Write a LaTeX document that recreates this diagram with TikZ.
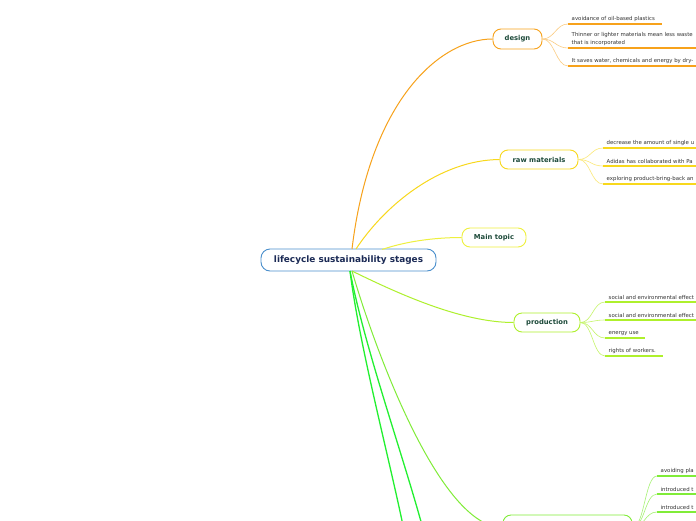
\documentclass[tikz,border=0pt]{standalone}
\usepackage{fontspec}
\setmainfont{DejaVu Sans}
\definecolor{cOr}{HTML}{F7A21B}
\definecolor{cYe}{HTML}{F8D81C}
\definecolor{cMt}{HTML}{EEF03E}
\definecolor{cPr}{HTML}{AEF02C}
\definecolor{cBo}{HTML}{80EC38}
\definecolor{cGr}{HTML}{22F030}
\definecolor{cBl}{HTML}{4A8FCC}
\definecolor{navy}{HTML}{1B2A55}
\definecolor{dgreen}{HTML}{1D4A3A}
\definecolor{txt}{HTML}{333333}
\tikzset{
  topic/.style={draw, fill=white, rounded corners=8pt, line width=0.9pt, text=dgreen,
    font=\fontsize{6.8}{8}\selectfont\bfseries, inner sep=0pt, align=center},
  leaf/.style={anchor=south west, inner xsep=3.5pt, inner ysep=1.8pt, text=txt, align=left,
    font=\fontsize{5.4}{8}\selectfont},
  branch/.style={line width=1pt},
  twig/.style={line width=0.6pt},
  ul/.style={line width=1.6pt},
}
\begin{document}
\begin{tikzpicture}[x=1pt,y=-1pt]
\clip (0,0) rectangle (696,520);
\fill[white] (0,0) rectangle (696,520);

% central
\node[draw=cBl, fill=white, rounded corners=9pt, line width=0.9pt, minimum width=175pt, minimum height=22pt,
  text=navy, font=\fontsize{8.9}{10}\selectfont\bfseries, inner sep=0pt] (c) at (348.5,260) {lifecycle sustainability stages};
\coordinate (cu) at (352,249);
\coordinate (cu2) at (356,249);
\coordinate (cm) at (382,249.5);
\coordinate (cd) at (352,271);
\coordinate (cd2) at (350,271);

% main topics
\node[topic, draw=cOr, minimum width=49pt, minimum height=20pt] (design) at (517.5,39) {design};
\node[topic, draw=cYe, minimum width=78pt, minimum height=19pt] (raw) at (539,159.5) {raw materials};
\node[topic, draw=cMt, minimum width=64pt, minimum height=19pt] (main) at (494,237.5) {Main topic};
\node[topic, draw=cPr, minimum width=66pt, minimum height=19pt] (prod) at (547,322.5) {production};
\node[topic, draw=cBo, minimum width=129pt, minimum height=25pt] (bot) at (567.5,527.5) {};
\coordinate (g1) at (406,540);
\coordinate (g2) at (426,540);

\draw[branch, cOr] (cu) .. controls (370,100) and (440,39) .. (design.west);
\draw[branch, cYe] (cu2) .. controls (385,205) and (440,160) .. (raw.west);
\draw[branch, cMt] (cm) .. controls (410,240) and (440,237.5) .. (main.west);
\draw[branch, cPr] (cd) .. controls (395,292) and (460,322.5) .. (prod.west);
\draw[branch, cBo] (cd) .. controls (375,350) and (440,527.5) .. (bot.west);
\draw[branch, cGr, line width=1.3pt] (cd2) .. controls (360,350) and (390,460) .. (g1);
\draw[branch, cGr, line width=1.3pt] (cd2) .. controls (365,350) and (405,460) .. (g2);

% design leaves
\node[leaf] (d1) at (568,24) {avoidance of oil-based plastics};
\node[leaf] (d2) at (568,48) {Thinner or lighter materials mean less waste\\that is incorporated};
\node[leaf] (d3) at (568,66) {It saves water, chemicals and energy by dry-};
\foreach \n/\l in {d1/94,d2/140,d3/140}{
  \draw[ul, cOr] (\n.south west) -- ++(\l,0);
  \draw[twig, cOr!55] (design.east) .. controls +(12,0) and +(-12,0) .. (\n.south west);
}

% raw materials leaves
\node[leaf] (r1) at (603,148) {decrease the amount of single u};
\node[leaf] (r2) at (603,166) {Adidas has collaborated with Pa};
\node[leaf] (r3) at (603,184) {exploring product-bring-back an};
\foreach \n in {r1,r2,r3}{
  \draw[ul, cYe] (\n.south west) -- ++(100,0);
  \draw[twig, cYe!60] (raw.east) .. controls +(12,0) and +(-12,0) .. (\n.south west);
}

% production leaves
\node[leaf] (p1) at (605,302) {social and environmental effect};
\node[leaf] (p2) at (605,320) {social and environmental effect};
\node[leaf] (p3) at (605,338) {energy use};
\node[leaf] (p4) at (605,356) {rights of workers.};
\foreach \n/\l in {p1/100,p2/100,p3/40,p4/58}{
  \draw[ul, cPr] (\n.south west) -- ++(\l,0);
  \draw[twig, cPr!70] (prod.east) .. controls +(12,0) and +(-12,0) .. (\n.south west);
}

% bottom leaves
\node[leaf] (b1) at (657,476) {avoiding pla};
\node[leaf] (b2) at (657,494) {introduced t};
\node[leaf] (b3) at (657,512) {introduced t};
\node[leaf] (b4) at (657,530) {};
\foreach \n in {b1,b2,b3,b4}{
  \draw[ul, cBo] (\n.south west) -- ++(60,0);
  \draw[twig, cBo!70] (bot.east) .. controls +(12,0) and +(-12,0) .. (\n.south west);
}
\end{tikzpicture}
\end{document}
